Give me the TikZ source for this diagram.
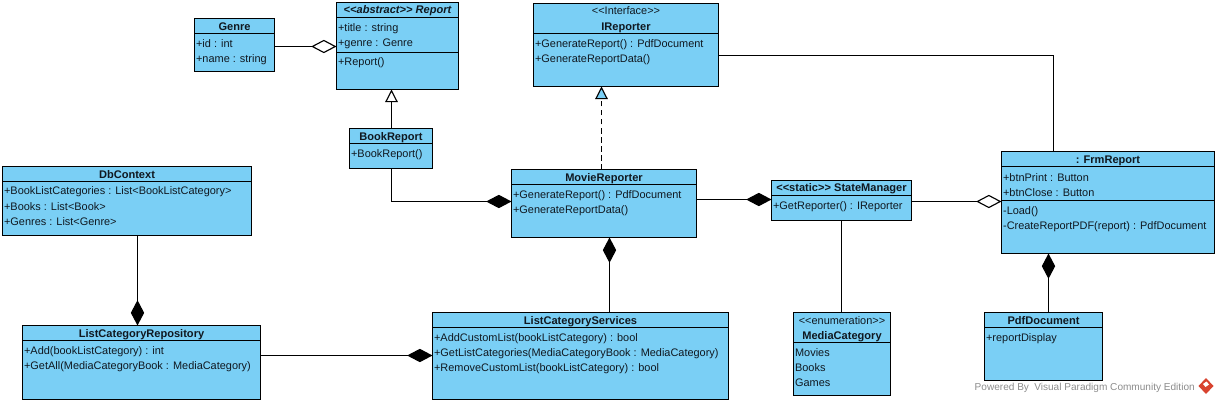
\documentclass[tikz,border=0pt]{standalone}
\usepackage{fontspec}
\setmainfont{Liberation Sans}
\usetikzlibrary{arrows.meta}
\definecolor{umlfill}{HTML}{7ACFF5}
\definecolor{umlink}{HTML}{101820}
\definecolor{footgrey}{HTML}{8C8C8C}
\definecolor{logored}{HTML}{D8432F}
\tikzset{
  umlbox/.style={draw=black,fill=umlfill,line width=0.85pt,inner sep=0pt,outer sep=0pt,rectangle},
  rowtxt/.style={anchor=base west,inner sep=0pt,font=\fontsize{8.2}{10}\selectfont,text=umlink},
  headtxt/.style={anchor=base,inner sep=0pt,font=\fontsize{8.3}{10}\selectfont\bfseries,text=umlink},
  stereotxt/.style={anchor=base,inner sep=0pt,font=\fontsize{8.2}{10}\selectfont,text=umlink},
  conn/.style={draw=black,line width=0.85pt},
  compo/.style={conn,-{Diamond[length=19pt,width=10pt,fill=black]}},
  aggre/.style={conn,-{Diamond[open,length=19pt,width=10pt,fill=white]}},
  inherit/.style={conn,-{Triangle[open,length=9.5pt,width=9.5pt,fill=white]}},
  realize/.style={conn,dash pattern=on 4pt off 2.75pt,-{Triangle[open,length=9.5pt,width=9.5pt,fill=umlfill,sep=0pt]}},
}
\newcommand{\umlclass}[5]{%
  \pgfmathsetmacro{\bw}{(#4-#2)*0.75}\pgfmathsetmacro{\bh}{(#5-#3)*0.75}%
  \pgfmathsetmacro{\cx}{(#2+#4)/2}\pgfmathsetmacro{\cy}{(#3+#5)/2}%
  \node[umlbox,minimum width=\bw pt,minimum height=\bh pt] (#1) at (\cx,\cy) {};}
\newcommand{\sepline}[2]{\draw[line width=0.85pt] (#1.west |- 0,#2) -- (#1.east |- 0,#2);}
\newcommand{\rowt}[3]{\node[rowtxt] (#1-#2) at ([xshift=1pt]#1.west |- 0,#2) {#3};}
\newcommand{\headt}[3]{\node[headtxt] (#1-#2) at (#1.center |- 0,#2) {#3};}
\newcommand{\stereot}[3]{\node[stereotxt] (#1-#2) at (#1.center |- 0,#2) {#3};}
\begin{document}
\begin{tikzpicture}[x=0.75pt,y=-0.75pt]
\useasboundingbox (0,0) rectangle (1218,403);
% classes
\umlclass{genre}{194.5}{18.5}{274.5}{71.5}
\sepline{genre}{33.5}
\headt{genre}{31}{Genre}
\rowt{genre}{48}{+id : int}
\rowt{genre}{63}{+name : string}

\umlclass{report}{336.5}{2.5}{458.5}{89.5}
\sepline{report}{17.5}
\headt{report}{14}{\itshape <{}<abstract>{}> Report}
\rowt{report}{32}{+title : string}
\rowt{report}{47}{+genre : Genre}
\sepline{report}{52.5}
\rowt{report}{66}{+Report()}

\umlclass{bookreport}{349.5}{128.5}{432.5}{168.5}
\sepline{bookreport}{143.5}
\headt{bookreport}{141}{BookReport}
\rowt{bookreport}{157}{+BookReport()}

\umlclass{ireporter}{533.5}{3.5}{718.5}{86.5}
\sepline{ireporter}{33.5}
\stereot{ireporter}{15}{<{}<Interface>{}>}
\headt{ireporter}{31}{IReporter}
\rowt{ireporter}{48}{+GenerateReport() : PdfDocument}
\rowt{ireporter}{63}{+GenerateReportData()}

\umlclass{moviereporter}{511.5}{169.5}{696.5}{237.5}
\sepline{moviereporter}{184.5}
\headt{moviereporter}{181}{MovieReporter}
\rowt{moviereporter}{198}{+GenerateReport() : PdfDocument}
\rowt{moviereporter}{213}{+GenerateReportData()}

\umlclass{statemanager}{771.5}{180.5}{911.5}{220.5}
\sepline{statemanager}{195.5}
\headt{statemanager}{191}{<{}<static>{}> StateManager}
\rowt{statemanager}{209}{+GetReporter() : IReporter}

\umlclass{frmreport}{1001.5}{151.5}{1214.5}{253.5}
\sepline{frmreport}{166.5}
\headt{frmreport}{163}{: FrmReport}
\rowt{frmreport}{181}{+btnPrint : Button}
\rowt{frmreport}{196}{+btnClose : Button}
\sepline{frmreport}{200.5}
\rowt{frmreport}{214}{-Load()}
\rowt{frmreport}{229}{-CreateReportPDF(report) : PdfDocument}

\umlclass{pdfdocument}{984.5}{312.5}{1102.5}{380.5}
\sepline{pdfdocument}{327.5}
\headt{pdfdocument}{324}{PdfDocument}
\rowt{pdfdocument}{341}{+reportDisplay}

\umlclass{dbcontext}{2.5}{166.5}{251.5}{235.5}
\sepline{dbcontext}{181.5}
\headt{dbcontext}{178}{DbContext}
\rowt{dbcontext}{195}{+BookListCategories : List<BookListCategory>}
\rowt{dbcontext}{210}{+Books : List<Book>}
\rowt{dbcontext}{225}{+Genres : List<Genre>}

\umlclass{repository}{22.5}{325.5}{260.5}{399.5}
\sepline{repository}{340.5}
\headt{repository}{337}{ListCategoryRepository}
\rowt{repository}{354}{+Add(bookListCategory) : int}
\rowt{repository}{369}{+GetAll(MediaCategoryBook : MediaCategory)}

\umlclass{services}{432.5}{312.5}{728.5}{399.5}
\sepline{services}{327.5}
\headt{services}{324}{ListCategoryServices}
\rowt{services}{341}{+AddCustomList(bookListCategory) : bool}
\rowt{services}{356}{+GetListCategories(MediaCategoryBook : MediaCategory)}
\rowt{services}{371}{+RemoveCustomList(bookListCategory) : bool}

\umlclass{mediacategory}{793.5}{312.5}{890.5}{395.5}
\sepline{mediacategory}{342.5}
\stereot{mediacategory}{324}{<{}<enumeration>{}>}
\headt{mediacategory}{339}{MediaCategory}
\rowt{mediacategory}{356}{Movies}
\rowt{mediacategory}{371}{Books}
\rowt{mediacategory}{386}{Games}

% connectors
\draw[aggre] (genre.east |- 0,46.5) -- (report.west |- 0,46.5);
\draw[inherit] (bookreport.north -| 391.5,0) -- (report.south -| 391.5,0);
\draw[compo] (bookreport.south -| 391.5,0) |- (moviereporter.west |- 0,201.5);
\draw[realize] (moviereporter.north -| 601.5,0) -- (ireporter.south -| 601.5,0);
\draw[compo] (moviereporter.east |- 0,199.5) -- (statemanager.west |- 0,199.5);
\draw[aggre] (statemanager.east |- 0,201.5) -- (frmreport.west |- 0,201.5);
\draw[conn] (ireporter.east |- 0,55.5) -| (frmreport.north -| 1053.5,0);
\draw[compo] (services.north -| 609.5,0) -- (moviereporter.south -| 609.5,0);
\draw[conn] (statemanager.south -| 841.5,0) -- (mediacategory.north -| 841.5,0);
\draw[compo] (pdfdocument.north -| 1048.5,0) -- (frmreport.south -| 1048.5,0);
\draw[compo] (dbcontext.south -| 137.5,0) -- (repository.north -| 137.5,0);
\draw[compo] (repository.east |- 0,355.5) -- (services.west |- 0,355.5);

% footer
\node[anchor=base east,inner sep=0pt,font=\fontsize{7.55}{10}\selectfont,text=footgrey] (footer) at (1195,390) {Powered By\hspace{4pt}Visual Paradigm Community Edition};
\fill[logored] (1206,378) -- (1213.5,386) -- (1206,394) -- (1198.5,386) -- cycle;
\fill[white] (1203,384) -- (1206.5,381.5) -- (1209,384.5) -- (1205.5,387) -- cycle;
\end{tikzpicture}
\end{document}
